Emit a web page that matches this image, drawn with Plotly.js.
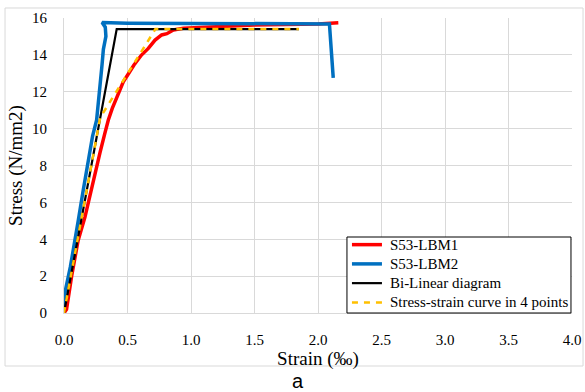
<!DOCTYPE html>
<html>
<head>
<meta charset="utf-8">
<script src="https://cdn.plot.ly/plotly-3.0.1.min.js"></script>
<style>
html,body{margin:0;padding:0;background:#fff;}
#chart{width:585px;height:392px;}
#chart svg text{font-family:'Liberation Serif','Times New Roman',serif !important;}
#chart svg .legendtext{font-size:15px !important; transform: translateX(3px);}
#chart svg .legend .scrollbox{clip-path:none !important;}
#chart svg .annotation-text{font-family:'Liberation Sans',Arial,sans-serif !important;}
</style>
</head>
<body>
<div id="chart"></div>
<script>
// Data
const lbm1Strain = [0, 0.02, 0.06, 0.11, 0.165, 0.218, 0.283, 0.32, 0.349, 0.38, 0.41, 0.467, 0.51, 0.551, 0.61, 0.664, 0.717, 0.769, 0.81, 0.861, 0.94, 1.1, 1.5, 2.0, 2.16];
const lbm1Stress = [0, 0.2, 2.0, 3.9, 5.2, 6.85, 8.68, 9.7, 10.47, 11.1, 11.64, 12.54, 13.0, 13.45, 13.99, 14.35, 14.8, 15.08, 15.15, 15.35, 15.44, 15.5, 15.62, 15.68, 15.74];

const lbm2Strain = [0, 0.01, 0.05, 0.09, 0.113, 0.15, 0.19, 0.225, 0.257, 0.27, 0.283, 0.3, 0.31, 0.33, 0.325, 0.3, 0.5, 1.0, 1.5, 2.09, 2.12];
const lbm2Stress = [0.3, 1.2, 2.5, 4.0, 5.04, 6.6, 8.3, 9.6, 10.47, 11.3, 12.5, 13.5, 14.3, 15.0, 15.5, 15.75, 15.72, 15.72, 15.7, 15.68, 12.75];

const biStrain = [0, 0.415, 1.85];
const biStress = [0, 15.4, 15.4];

const fourStrain = [0, 0.285, 0.72, 1.85];
const fourStress = [0, 10.6, 15.4, 15.4];

const seriesNames = ["S53-LBM1", "S53-LBM2", "Bi-Linear diagram", "Stress-strain curve in 4 points"];
const xTicks = [0, 0.5, 1, 1.5, 2, 2.5, 3, 3.5, 4];
const xTickText = ["0.0", "0.5", "1.0", "1.5", "2.0", "2.5", "3.0", "3.5", "4.0"];
const yTicks = [0, 2, 4, 6, 8, 10, 12, 14, 16];

const serif = "'Liberation Serif', 'Times New Roman', serif";

const traces = [
  {x: lbm1Strain, y: lbm1Stress, name: seriesNames[0], mode: "lines", line: {color: "#FF0000", width: 3.5}},
  {x: lbm2Strain, y: lbm2Stress, name: seriesNames[1], mode: "lines", line: {color: "#0070C0", width: 3.5}},
  {x: biStrain, y: biStress, name: seriesNames[2], mode: "lines", line: {color: "#000000", width: 2.2}},
  {x: fourStrain, y: fourStress, name: seriesNames[3], mode: "lines", line: {color: "#FFC000", width: 2.5, dash: "6px,6px"}}
];

const layout = {
  width: 585, height: 392,
  margin: {l: 64, r: 13, t: 18, b: 79},
  paper_bgcolor: "#fff", plot_bgcolor: "#fff",
  font: {family: serif, size: 15, color: "#000"},
  showlegend: true,
  legend: {
    x: 0.557, y: 0.2813, xanchor: "left", yanchor: "top",
    bgcolor: "rgba(0,0,0,0)", borderwidth: 0,
    font: {family: serif, size: 12.5, color: "#000"},
    itemwidth: 30, tracegroupgap: 0
  },
  xaxis: {
    range: [0, 4], tickvals: xTicks, ticktext: xTickText,
    showgrid: true, gridcolor: "#d9d9d9", gridwidth: 1,
    zeroline: false, showline: true, linecolor: "#d9d9d9",
    ticks: "outside", ticklen: 13, tickcolor: "rgba(0,0,0,0)",
    tickfont: {family: serif, size: 15},
    title: {text: "Strain (‰)", font: {family: serif, size: 19}, standoff: 2},
    fixedrange: true
  },
  yaxis: {
    range: [0, 16], tickvals: yTicks,
    showgrid: true, gridcolor: "#d9d9d9", gridwidth: 1,
    zeroline: false, showline: true, linecolor: "#d9d9d9",
    ticks: "outside", ticklen: 13, tickcolor: "rgba(0,0,0,0)",
    tickfont: {family: serif, size: 15},
    title: {text: "Stress (N/mm2)", font: {family: serif, size: 19}, standoff: 4},
    fixedrange: true
  },
  shapes: [
    {type: "rect", xref: "paper", yref: "paper", x0: -0.1161, x1: 1.0217, y0: -0.1797, y1: 1.0339,
     line: {color: "#d9d9d9", width: 1}, fillcolor: "rgba(0,0,0,0)", layer: "below"},
    {type: "rect", xref: "paper", yref: "paper", x0: 0.557, x1: 0.998, y0: 0.0, y1: 0.2576,
     line: {color: "#000", width: 1}, fillcolor: "#fff", layer: "above"}
  ],
  annotations: [
    {text: "a", xref: "paper", yref: "paper", x: 0.4606, y: -0.232, xanchor: "center", yanchor: "middle", showarrow: false,
     font: {family: "'Liberation Sans', Arial, sans-serif", size: 20, color: "#000"}}
  ]
};

Plotly.newPlot("chart", traces, layout, {displayModeBar: false, staticPlot: true});
</script>
</body>
</html>
